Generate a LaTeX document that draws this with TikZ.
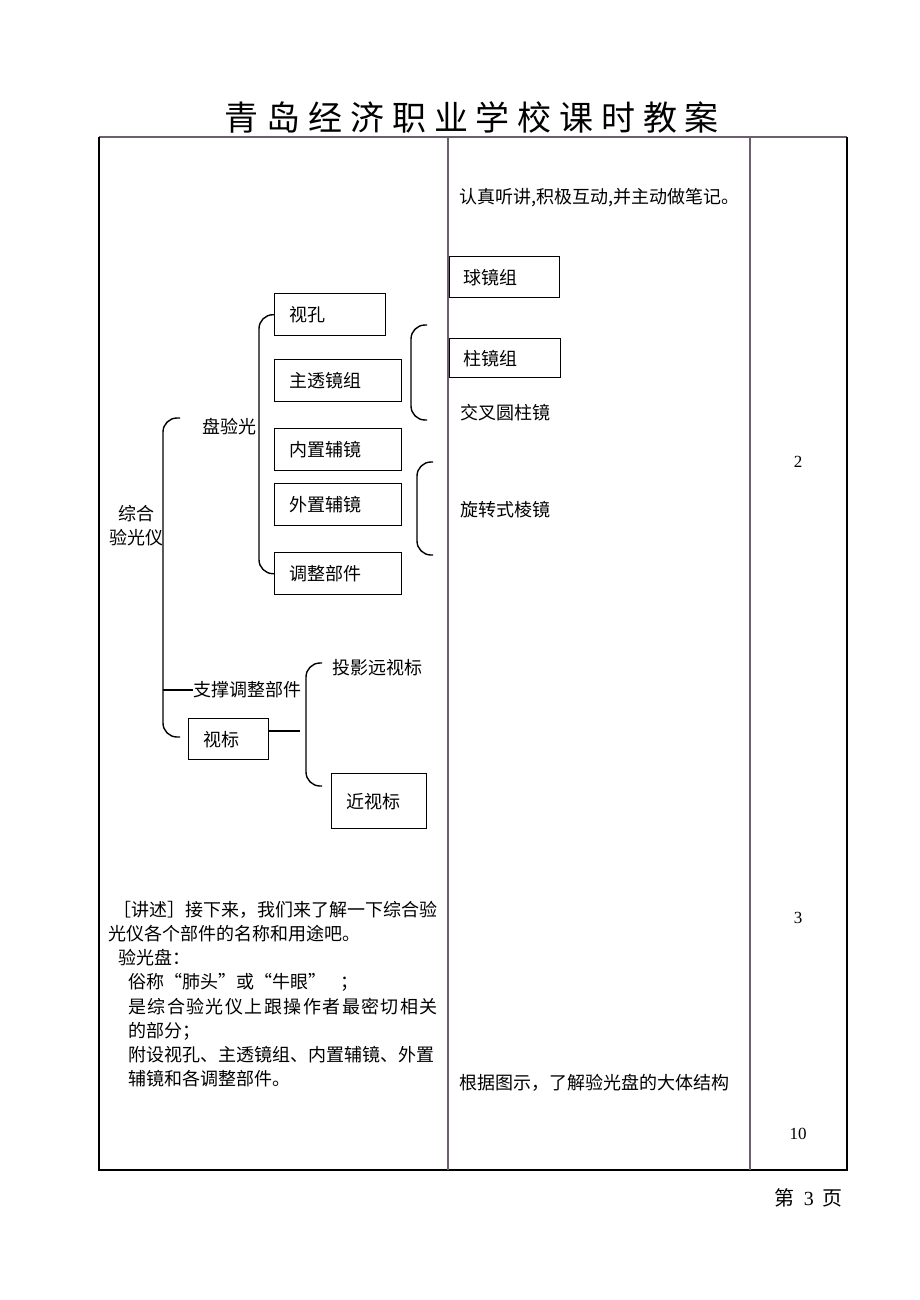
\documentclass[tikz,border=0pt]{standalone}
\usepackage{fontspec}
\setmainfont{Liberation Serif}
\newfontfamily\cjk{Noto Sans CJK SC}
\usetikzlibrary{positioning}

\definecolor{rulegray}{RGB}{110,92,112}

\tikzset{
  zh/.style={font=\cjk\fontsize{18}{24}\selectfont, inner sep=0pt},
  box/.style={zh, draw, line width=1.4pt, anchor=north west,
    minimum height=42pt, inner xsep=15pt, align=left},
  brace/.style={line width=1.4pt, rounded corners=14pt},
  num/.style={font=\fontsize{17}{20}\selectfont, inner sep=0pt},
}

\begin{document}
\begin{tikzpicture}[x=1pt, y=-1pt]
    \useasboundingbox (0,0) rectangle (920,1300);

    % Title
    \node[inner sep=0pt, font=\cjk\fontsize{34}{38}\selectfont\addfontfeature{LetterSpace=23}]
      (title) at (472,117) {青岛经济职业学校课时教案};

    % Table frame
    \draw[rulegray, line width=1.4pt] (99,137) -- (847,137);
    \draw[line width=1.4pt] (99,137) -- (99,1170) -- (847,1170) -- (847,137);
    \draw[rulegray, line width=1.4pt] (448,137) -- (448,1170);
    \draw[rulegray, line width=1.4pt] (750,137) -- (750,1170);

    % Parts of the light disc
    \node[box, text width=81pt] (shikong) at (274,293) {视孔};
    \node[box, text width=97pt] (zhutou) at (274,359) {主透镜组};
    \node[box, text width=97pt] (neizhi) at (274,428) {内置辅镜};
    \node[box, text width=97pt] (waizhi) at (274,483) {外置辅镜};
    \node[box, text width=97pt] (tiaozheng) at (274,552) {调整部件};
    \draw[brace] (shikong.west) -| ([xshift=-15pt]tiaozheng.west) -- (tiaozheng.west);

    \node[zh, anchor=west] (panyan) at (202,427) {盘验光};
    \node[zh, align=center] (zonghe) at (136,526) {综合\\验光仪};

    % Main bracket
    \coordinate (bigtop) at (180,418);
    \coordinate (bigbot) at (180,737);
    \draw[brace] (bigtop) -| ([xshift=-17pt]bigbot) -- (bigbot);

    \node[zh, anchor=west] (zhicheng) at (193,690) {支撑调整部件};
    \coordinate (stem) at (163,690);
    \draw[line width=1.4pt] (stem) -- (zhicheng.west);

    % Chart
    \node[box, text width=50pt, minimum height=41pt] (shibiao) at (188,718) {视标};
    \node[box, text width=65pt, minimum height=55pt] (jinshibiao) at (331,773) {近视标};
    \node[zh, anchor=west] (touying) at (332,668) {投影远视标};
    \coordinate (visjoin) at (300,731);
    \draw[line width=1.4pt] (shibiao.east |- visjoin) -- (visjoin);
    \coordinate (yuantop) at (322,663);
    \coordinate (jinbot) at (322,786);
    \draw[brace] (yuantop) -| ([xshift=-16pt]jinbot) -- (jinbot);

    % Lens groups
    \coordinate (zhutop) at (427,325);
    \coordinate (zhubot) at (427,420);
    \draw[brace] (zhutop) -| ([xshift=-16pt]zhubot) -- (zhubot);
    \coordinate (futop) at (433,462);
    \coordinate (fubot) at (433,555);
    \draw[brace] (futop) -| ([xshift=-16pt]fubot) -- (fubot);

    % Middle column
    \node[zh, anchor=west] (renzhen) at (459,198) {认真听讲,积极互动,并主动做笔记。};
    \node[box, text width=82pt, minimum height=41pt, inner xsep=14pt] (qiujing) at (449,256) {球镜组};
    \node[box, text width=83pt, minimum height=39pt, inner xsep=14pt] (zhujing) at (449,338) {柱镜组};
    \node[zh, anchor=west] (jiaocha) at (460,413) {交叉圆柱镜};
    \node[zh, anchor=west] (xuanzhuan) at (460,510) {旋转式棱镜};
    \node[zh, anchor=west] (genju) at (459,1083) {根据图示，了解验光盘的大体结构};

    % Explanation
    \foreach \txt/\xx/\yy [count=\i] in {
        ［讲述］接下来，我们来了解一下综合验/113/910,
        光仪各个部件的名称和用途吧。/108/934,
        验光盘：/118/958,
        俗称“肺头”或“牛眼”\hspace{14pt}；/128/982,
        {\addfontfeature{LetterSpace=8}是综合验光仪上跟操作者最密切相关}/128/1007,
        的部分；/128/1031,
        附设视孔、主透镜组、内置辅镜、外置/128/1055,
        辅镜和各调整部件。/128/1079}
      \node[zh, anchor=west] (jiang\i) at (\xx,\yy) {\txt};

    % Minutes
    \node[num] (min2) at (798,462) {2};
    \node[num] (min3) at (798,918) {3};
    \node[num] (min10) at (798,1134) {10};

    % Page number
    \node[inner sep=0pt, anchor=east, font=\fontsize{20}{24}\selectfont]
      (page) at (843,1198) {{\cjk 第}\hspace{9pt}3\hspace{9pt}{\cjk 页}};
\end{tikzpicture}
\end{document}
